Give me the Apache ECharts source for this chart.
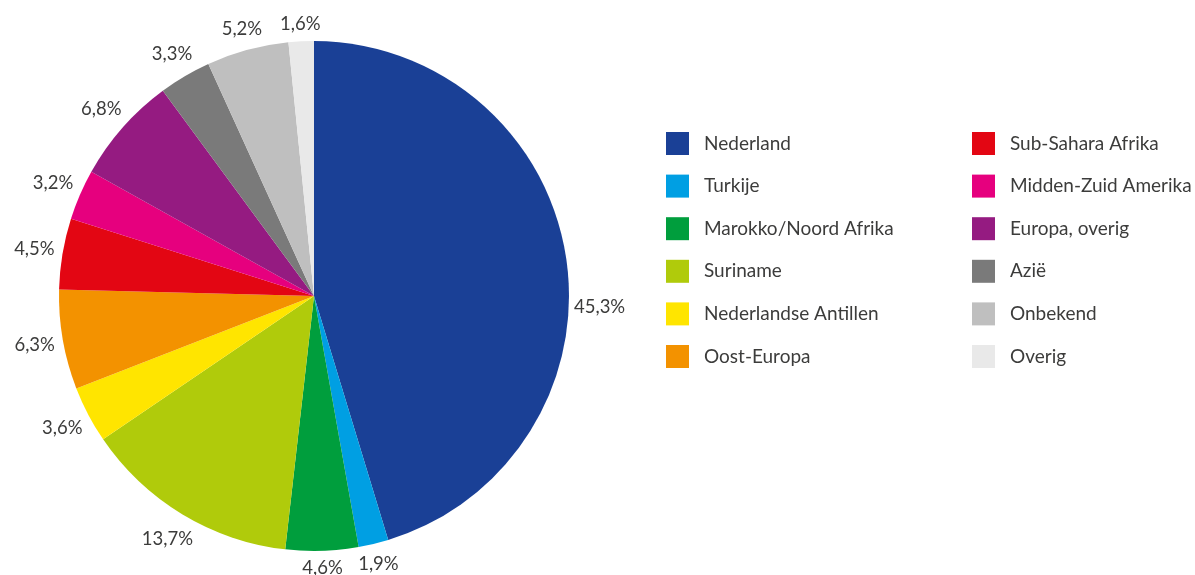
<!DOCTYPE html>
<html>
<head>
<meta charset="utf-8">
<script src="https://cdn.jsdelivr.net/npm/echarts@6/dist/echarts.min.js"></script>
<style>
  html, body { margin: 0; padding: 0; background: #fff; }
  #chart { width: 1195px; height: 575px; }
</style>
</head>
<body>
<div id="chart"></div>
<script>
// Herkomst, aandeel in procenten
const categories = [
  'Nederland', 'Turkije', 'Marokko/Noord Afrika', 'Suriname',
  'Nederlandse Antillen', 'Oost-Europa', 'Sub-Sahara Afrika',
  'Midden-Zuid Amerika', 'Europa, overig', 'Azië', 'Onbekend', 'Overig'
];
const shares = [45.3, 1.9, 4.6, 13.7, 3.6, 6.3, 4.5, 3.2, 6.8, 3.3, 5.2, 1.6];
const colors = [
  '#1a4096', '#009fe3', '#009e3d', '#b0cb0b', '#ffe500', '#f39200',
  '#e30613', '#e6007e', '#951b81', '#7a7a7a', '#bfbfbf', '#e9e9e9'
];

const FONT = 'Lato, "Open Sans", sans-serif';
const TEXT = '#3c3c3b';
const CX = 314, CY = 296, R = 255, LABEL_GAP = 7;

// middle of each slice as a fraction of the full turn, clockwise from the top
const total = shares.reduce((s, v) => s + v, 0);
const midFrac = [];
shares.reduce((acc, v) => { midFrac.push((acc + v / 2) / total); return acc + v; }, 0);

const chart = echarts.init(document.getElementById('chart'), null, { renderer: 'canvas' });

const legendBase = {
  orient: 'vertical',
  itemWidth: 23,
  itemHeight: 23,
  itemGap: 19.6,
  icon: 'rect',
  selectedMode: false,
  textStyle: { fontFamily: FONT, fontSize: 19, color: TEXT, padding: [0, 0, 0, 10] }
};

chart.setOption({
  color: colors,
  animation: false,
  legend: [
    Object.assign({}, legendBase, { left: 661, top: 127, data: categories.slice(0, 6) }),
    Object.assign({}, legendBase, { left: 967, top: 127, data: categories.slice(6) })
  ],
  series: [{
    type: 'pie',
    center: [CX, CY],
    radius: R,
    startAngle: 90,
    clockwise: true,
    avoidLabelOverlap: false,
    itemStyle: { borderWidth: 0 },
    label: {
      show: true,
      position: 'outside',
      fontFamily: FONT,
      fontSize: 18.5,
      color: TEXT,
      formatter: p => p.value.toFixed(1).replace('.', ',') + '%'
    },
    labelLine: { show: false },
    // centre each percentage just outside its slice, along the slice's mid direction
    labelLayout: function (p) {
      const i = p.dataIndex;
      const a = midFrac[i] * 2 * Math.PI;
      const dx = Math.sin(a), dy = -Math.cos(a);
      const hw = p.labelRect.width / 2, hh = p.labelRect.height / 2;
      const d = R + LABEL_GAP + hw * Math.abs(dx) + hh * Math.abs(dy);
      return {
        x: CX + d * dx,
        y: CY + d * dy + (i === 0 ? 54 : 0),
        align: 'center',
        verticalAlign: 'middle'
      };
    },
    emphasis: { disabled: true },
    data: categories.map((name, i) => ({ name, value: shares[i] }))
  }]
});
</script>
</body>
</html>
